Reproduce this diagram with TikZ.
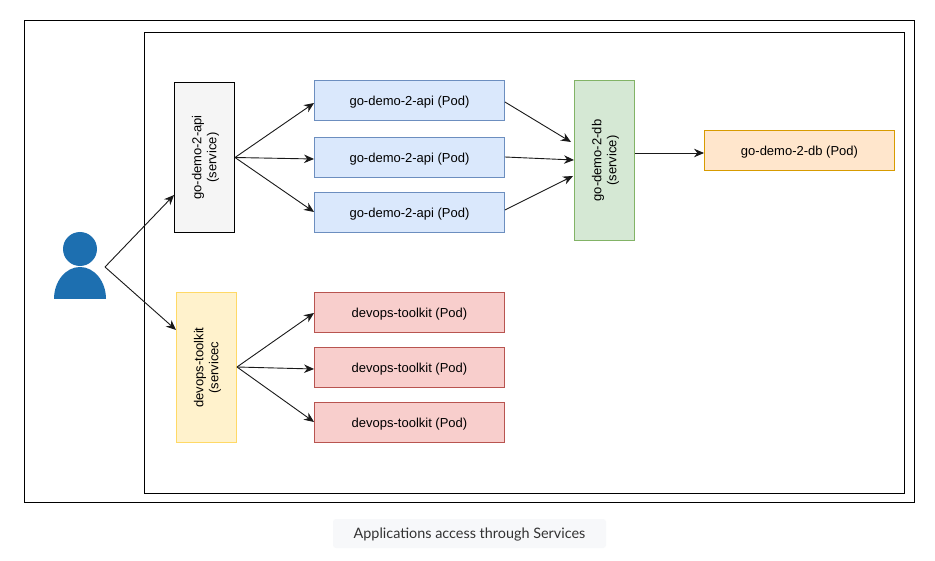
\documentclass[tikz,border=0pt]{standalone}
\usepackage{fontspec}
\setmainfont{Liberation Sans}
\newfontfamily\capfont{Lato}
\usetikzlibrary{arrows.meta}
\tikzset{
  x=1pt,y=-1pt,
  frame/.style={draw=black,line width=1pt,fill=none},
  box/.style={draw=#1,line width=0.9pt,inner sep=0pt,font=\fontsize{13}{15}\selectfont,align=center,text depth=0pt,text height=11pt},
  vtext/.style={rotate=90,align=center,font=\fontsize{13}{15}\selectfont,xshift=0pt,yshift=-1pt},
  conn/.style={draw=black!90,line width=0.9pt,-{Stealth[length=10pt,width=8.5pt]}},
}
\definecolor{bluefill}{HTML}{DAE8FC}\definecolor{blueline}{HTML}{6C8EBF}
\definecolor{redfill}{HTML}{F8CECC}\definecolor{redline}{HTML}{B85450}
\definecolor{greenfill}{HTML}{D5E8D4}\definecolor{greenline}{HTML}{82B366}
\definecolor{orangefill}{HTML}{FFE6CC}\definecolor{orangeline}{HTML}{D79B00}
\definecolor{yellowfill}{HTML}{FFF2CC}\definecolor{yellowline}{HTML}{FFD966}
\definecolor{greyfill}{HTML}{F5F5F5}
\definecolor{person}{HTML}{1D6FB0}
\definecolor{capfill}{HTML}{F7F8FA}
\begin{document}
\begin{tikzpicture}
\useasboundingbox (0,0) rectangle (935,561);
\fill[white] (0,0) rectangle (935,561);
\node[frame,minimum width=890pt,minimum height=481pt,inner sep=0pt] (outer) at (469.5,261.5) {};
\node[frame,minimum width=760pt,minimum height=460pt,inner sep=0pt] (inner) at (524.5,263) {};
% person
\fill[person] (80,249) circle (17pt);
\fill[person] (54,299) arc[start angle=180,end angle=0,x radius=26pt,y radius=32pt] -- cycle;
\coordinate (user) at (105,267);
% services
\node[box=black,fill=greyfill,minimum width=60pt,minimum height=150pt] (api) at (204.5,157.5) {};
\node[vtext] at (api.center) {go-demo-2-api\\(service)};
\node[box=yellowline,fill=yellowfill,minimum width=60pt,minimum height=150pt] (tk) at (206.5,367.5) {};
\node[vtext] at (tk.center) {devops-toolkit\\(servicec};
\node[box=greenline,fill=greenfill,minimum width=60pt,minimum height=160pt] (db) at (604.5,160.5) {};
\node[vtext] at (db.center) {go-demo-2-db\\(service)};
% pods
\foreach \n/\y in {a1/100.5,a2/157,a3/212.5}
  \node[box=blueline,fill=bluefill,minimum width=190pt,minimum height=40pt] (\n) at (409.5,\y) {go-demo-2-api (Pod)};
\foreach \n/\y in {t1/312.5,t2/367.5,t3/422.5}
  \node[box=redline,fill=redfill,minimum width=190pt,minimum height=40pt] (\n) at (409.5,\y) {devops-toolkit (Pod)};
\node[box=orangeline,fill=orangefill,minimum width=190pt,minimum height=40pt] (dbp) at (799.5,150) {go-demo-2-db (Pod)};
% connectors
\draw[conn] (user) -- (api.west |- 0,195);
\draw[conn] (user) -- (tk.west |- 0,330);
\coordinate (as) at (235,157.5);
\draw[conn] (as) -- (a1.west |- 0,103);
\draw[conn] (as) -- (a2.west |- 0,159);
\draw[conn] (as) -- (a3.west |- 0,212);
\coordinate (ts) at (237,367);
\draw[conn] (ts) -- (t1.west |- 0,313);
\draw[conn] (ts) -- (t2.west |- 0,369);
\draw[conn] (ts) -- (t3.west |- 0,422);
\draw[conn] (a1.east |- 0,102) -- (571,142);
\draw[conn] (a2.east |- 0,157) -- (574,160);
\draw[conn] (a3.east |- 0,210) -- (573,176);
\draw[conn] (db.east |- 0,153) -- (dbp.west |- 0,153);
% caption
\node[fill=capfill,rounded corners=3pt,minimum width=273pt,minimum height=29pt,inner sep=0pt,font=\capfont\fontsize{14.4}{17}\selectfont,text=black!80,text height=11pt,text depth=2pt] (cap) at (469.5,533.5) {Applications access through Services};
\end{tikzpicture}
\end{document}
